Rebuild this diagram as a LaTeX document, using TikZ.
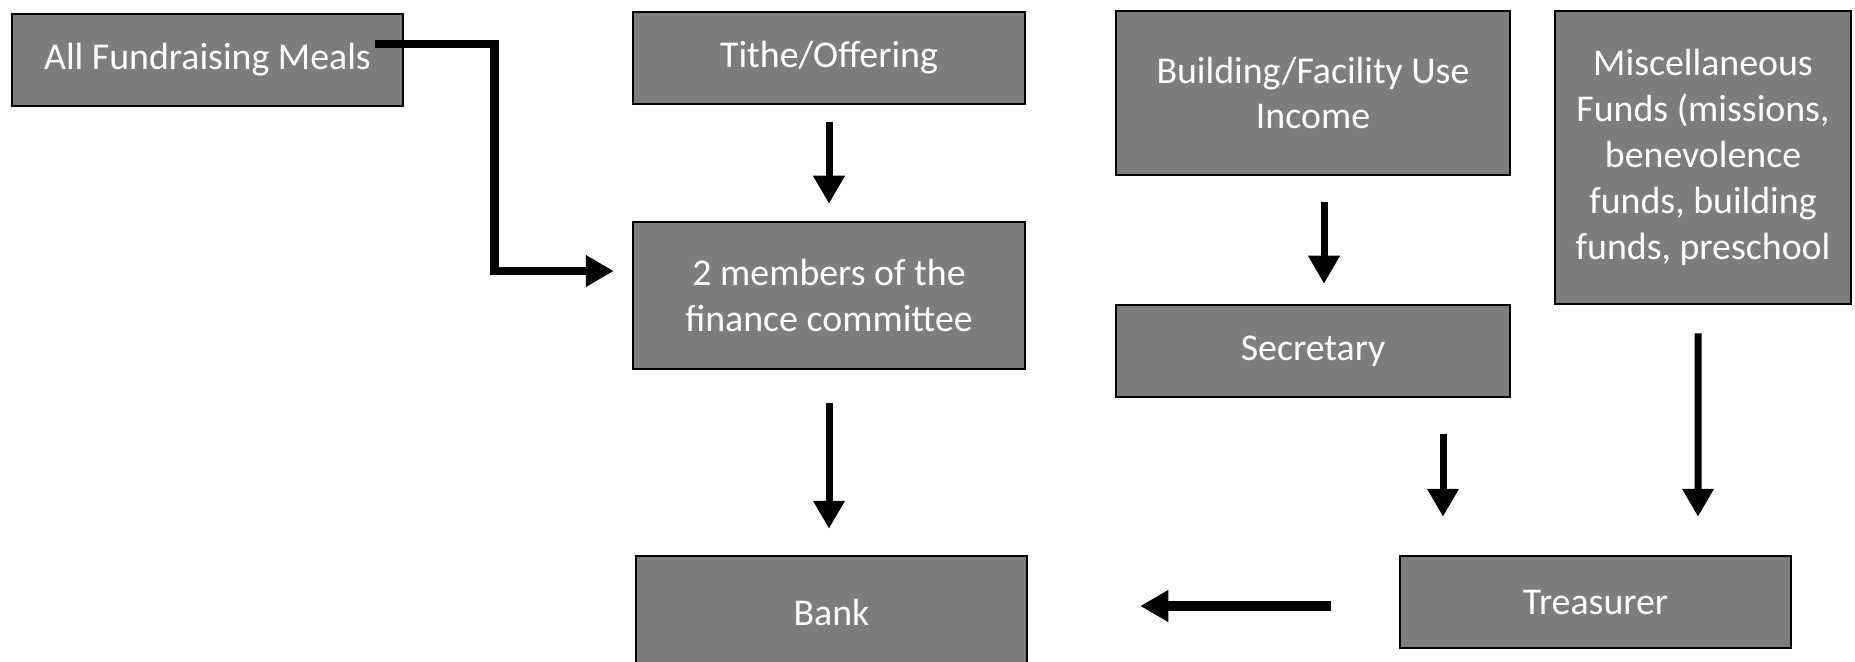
\documentclass[tikz,border=0pt]{standalone}
\usepackage{fontspec}
\setmainfont{Carlito}
\usepackage{xcolor}
\usetikzlibrary{arrows.meta, calc}
\definecolor{boxgray}{RGB}{125,125,125}

\begin{document}
\begin{tikzpicture}[x=1bp, y=-1bp,
  box/.style={draw=black, line width=2.5bp, fill=boxgray, text=white, align=center,
    inner sep=0pt, font=\fontsize{38}{46}\selectfont},
  arr/.style={line width=7bp, -{Triangle[width=30bp, length=28bp]}}]
\useasboundingbox (0, 0) rectangle (1855, 662);
\fill[white] (0, 0) rectangle (1855, 662);
% boxes
\node[box, minimum width=391bp, minimum height=92bp] (meals) at (207.5, 60) {All Fundraising Meals};
\node[box, minimum width=392bp, minimum height=92bp] (tithe) at (829, 58) {Tithe/Offering};
\node[box, minimum width=394bp, minimum height=164bp] (building) at (1313, 93) {Building/Facility Use\\Income};
\node[box, minimum width=296bp, minimum height=293bp] (misc) at (1703, 157.5) {Miscellaneous\\Funds (missions,\\benevolence\\funds, building\\funds, preschool};
\node[box, minimum width=392bp, minimum height=147bp] (members) at (829, 295.5) {2 members of the\\finance committee};
\node[box, minimum width=394bp, minimum height=92bp] (secretary) at (1313, 351) {Secretary};
\node[box, minimum width=391bp, minimum height=112bp] (bank) at (831.5, 612) {Bank};
\node[box, minimum width=391bp, minimum height=92bp] (treasurer) at (1595.5, 602) {Treasurer};
% arrows
\coordinate (mealsout) at ($(meals.east)+(-29, -16)$);
\draw[arr, line width=8.5bp, shorten >=18bp] (mealsout) -- ++(119, 0) |- ($(members.west)+(0, -24.5)$);
\draw[arr, shorten <=17bp, shorten >=17bp] (tithe.south) -- (members.north);
\draw[arr, shorten <=33bp, shorten >=26bp] (members.south) -- (members.south |- bank.north);
\draw[arr, shorten <=26bp, shorten >=20bp] ($(building.south)+(11, 0)$) -- ($(secretary.north)+(11, 0)$);
\draw[arr, shorten <=36bp, shorten >=38bp] ($(secretary.south)+(130, 0)$) -- ($(treasurer.north)+(-152.5, 0)$);
\draw[arr, shorten <=28bp, shorten >=38bp] ($(misc.south)+(-5, 0)$) -- ($(treasurer.north)+(102.5, 0)$);
\draw[arr, line width=10bp, shorten <=68bp, shorten >=112bp] ($(treasurer.west)+(0, 4)$) -- ($(bank.east)+(0, -6)$);
\end{tikzpicture}
\end{document}
